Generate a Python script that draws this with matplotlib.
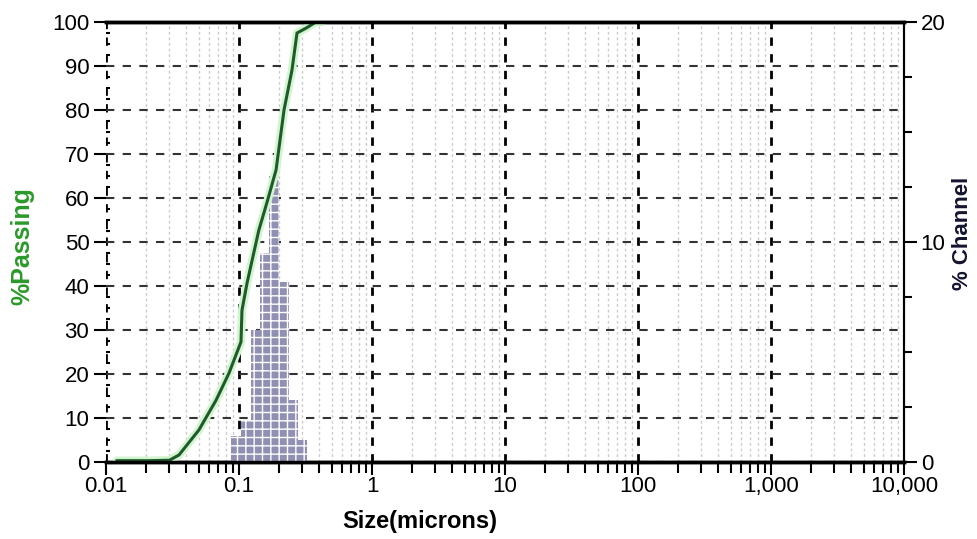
import numpy as np
import matplotlib
matplotlib.use("Agg")
import matplotlib.pyplot as plt
from matplotlib import font_manager
from matplotlib.ticker import FixedLocator, LogLocator, NullFormatter, MultipleLocator

# cumulative curve (% passing, left axis)
size_pass = [0.0121, 0.021, 0.030, 0.0354, 0.050, 0.0671, 0.0841, 0.1035, 0.1053,
             0.115, 0.141, 0.162, 0.190, 0.218, 0.250, 0.273, 0.319, 0.379, 0.42]
pct_pass = [0.3, 0.3, 0.4, 1.6, 7.3, 14.0, 20.2, 27.3, 34.5,
            40.7, 52.7, 58.9, 66.4, 80.0, 89.0, 97.5, 98.6, 100.0, 100.0]

# histogram (% channel, right axis)
chan_edges = [0.0871, 0.1035, 0.1231, 0.1438, 0.1681, 0.2000, 0.2376, 0.2777, 0.3246]
chan_pct = [1.2, 1.9, 6.0, 9.5, 13.0, 8.2, 2.8, 1.0]

x_ticks = [0.01, 0.1, 1, 10, 100, 1000, 10000]
x_labels = ["0.01", "0.1", "1", "10", "100", "1,000", "10,000"]
left_ticks = list(range(0, 101, 10))
right_ticks = [0, 10, 20]

names = {f.name for f in font_manager.fontManager.ttflist}
fam = "Liberation Sans Narrow" if "Liberation Sans Narrow" in names else "Liberation Sans"
plt.rcParams["font.family"] = [fam, "DejaVu Sans"]

fig = plt.figure(figsize=(9.77, 5.39), dpi=100)
ax = fig.add_axes([106 / 977, 1 - 462 / 539, 798 / 977, 440 / 539])
ax2 = ax.twinx()

ax.set_xscale("log")
ax.set_xlim(0.01, 10000)
ax.set_ylim(0, 100)
ax2.set_ylim(0, 20)

# grid
ax.set_axisbelow(True)
ax.xaxis.set_minor_locator(LogLocator(base=10, subs=np.arange(2, 10)))
ax.xaxis.set_minor_formatter(NullFormatter())
ax.grid(which="minor", axis="x", color="#cccccc", lw=1.0, ls=(0, (2, 2)))
ax.grid(which="major", axis="x", color="black", lw=2.0, ls=(0, (3, 3)))
ax.grid(which="major", axis="y", color="#333333", lw=1.5, ls=(0, (4, 4)))

# bars + curve on top axes
lefts = chan_edges[:-1]
widths = np.diff(chan_edges)
ax2.bar(lefts, chan_pct, width=widths, align="edge", color="#9090b4",
        edgecolor="white", linewidth=0, hatch="++")
ax2.plot(size_pass, pct_pass, color="#d2f4ce", lw=6, transform=ax.transData,
         solid_capstyle="round")
ax2.plot(size_pass, pct_pass, color="#1f5a2c", lw=2.2, transform=ax.transData)
ax2.set_xlim(0.01, 10000)
ax2.set_ylim(0, 20)

# ticks
ax.xaxis.set_major_locator(FixedLocator(x_ticks))
ax.set_xticklabels(x_labels)
ax.set_yticks(left_ticks)
ax.yaxis.set_minor_locator(MultipleLocator(2.5))
ax2.set_yticks(right_ticks)
ax2.yaxis.set_minor_locator(MultipleLocator(2.5))
ax.tick_params(axis="y", which="major", length=9, width=1.5, labelsize=16, pad=3)
ax.tick_params(axis="x", which="major", length=9, width=1.5, labelsize=16, pad=1)
ax.tick_params(axis="x", which="minor", length=8, width=1.5)
ax.tick_params(axis="y", which="minor", length=3, width=1.5, direction="in")
ax2.tick_params(axis="y", which="major", length=9, width=1.5, labelsize=16, pad=3)
ax2.tick_params(axis="y", which="minor", length=6, width=1.5)

for a in (ax, ax2):
    a.spines["left"].set_visible(False)
    a.spines["top"].set_linewidth(2.5)
    a.spines["bottom"].set_linewidth(2.5)
    a.spines["right"].set_linewidth(1.5)

ax.set_ylabel("%Passing", color="#2a9a2a", fontweight="bold", fontsize=18)
ax.yaxis.set_label_coords(-0.09, 0.49)
ax2.set_ylabel("% Channel", color="#141430", fontweight="bold", fontsize=16,
               rotation=90)
ax2.yaxis.set_label_coords(1.06, 0.52)
ax.set_xlabel("Size(microns)", fontweight="bold", fontsize=17)
ax.xaxis.set_label_coords(0.393, -0.11)

fig.savefig("out.png", dpi=100)
